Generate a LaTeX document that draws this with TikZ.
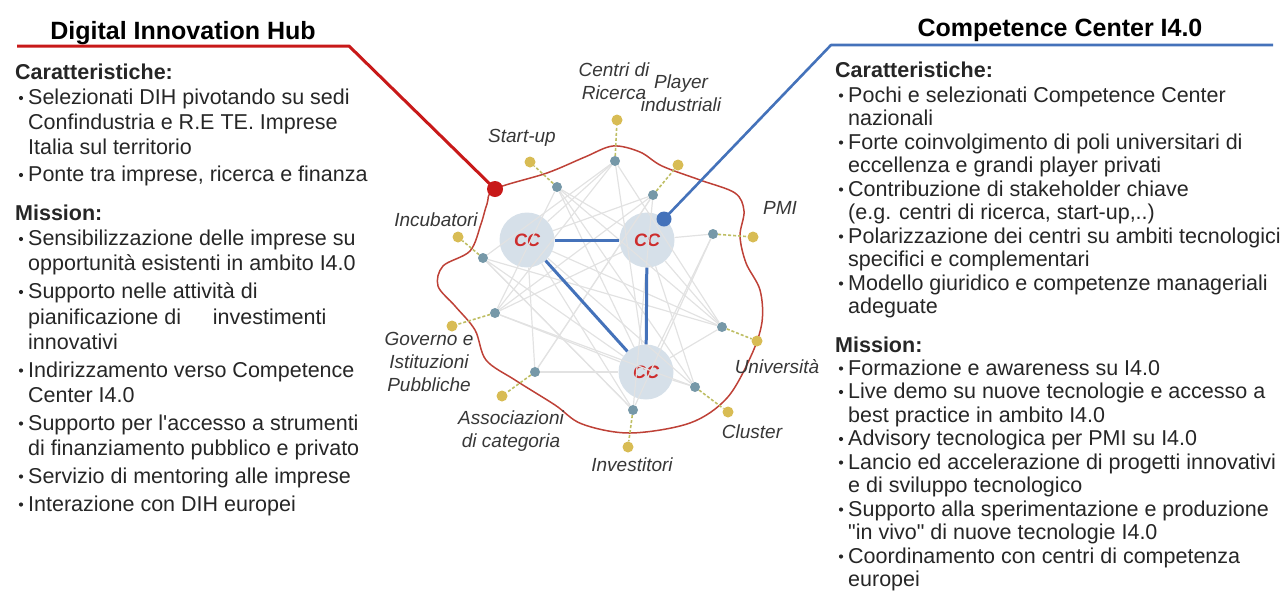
\documentclass[tikz,border=0pt]{standalone}
\usepackage{fontspec}
\setmainfont{Liberation Sans}
\definecolor{txt}{RGB}{38,38,38}
\definecolor{labc}{RGB}{55,55,55}
\definecolor{redc}{RGB}{200,25,25}
\definecolor{bluec}{RGB}{68,114,186}
\definecolor{ccfill}{RGB}{214,224,233}
\definecolor{ccred}{RGB}{205,45,45}
\definecolor{tealc}{RGB}{118,152,168}
\definecolor{goldc}{RGB}{216,188,84}
\definecolor{pinc}{RGB}{190,190,100}
\definecolor{webc}{RGB}{226,226,226}
\definecolor{blobc}{RGB}{190,65,55}
\begin{document}
\begin{tikzpicture}[x=1pt,y=-1pt,
  body/.style={font=\fontsize{21.5}{24}\selectfont, text=txt, inner sep=0pt, anchor=base west},
  head/.style={font=\fontsize{21.5}{24}\selectfont\bfseries, text=txt, inner sep=0pt, anchor=base west},
  ttl/.style={font=\fontsize{25}{30}\selectfont\bfseries, text=black, inner sep=0pt, anchor=base},
  lab/.style={font=\fontsize{19}{23}\selectfont\itshape, text=labc, align=center, inner sep=0pt},
  ccnode/.style={circle, fill=ccfill, minimum size=55pt, inner sep=0pt, font=\fontsize{18}{18}\selectfont\bfseries\itshape, text=ccred},
  inndot/.style={circle, fill=tealc, minimum size=10pt, inner sep=0pt},
  outdot/.style={circle, fill=goldc, minimum size=11pt, inner sep=0pt},
  web/.style={draw=webc, line width=1.2pt},
  strong/.style={draw=bluec, line width=3pt},
  pinline/.style={draw=pinc, dash pattern=on 3pt off 2pt, line width=1.6pt},
  blob/.style={draw=blobc, line width=1.5pt},
  bul/.style={circle, fill=txt, minimum size=4.2pt, inner sep=0pt}
]
\useasboundingbox (0,0) rectangle (1285,590);

% ---------- titles ----------
\node[ttl] (t1) at (183,39) {Digital Innovation Hub};
\node[ttl] (t2) at (1060,36) {Competence Center I4.0};

% ---------- central network ----------
\draw[blob] plot[smooth cycle, tension=0.55] coordinates {
 (495,189) (547,173) (585,157) (613,146) (640,152) (662,166) (700,180) (735,193)
 (744,211) (740,236) (746,263) (760,290) (762,322) (751,356) (727,398) (690,423)
 (630,433) (582,424) (555,405) (515,380) (486,360) (475,330) (455,306) (438,286)
 (443,266) (470,251) (481,224) (487,204)};

\node[ccnode] (cc1) at (527,240) {CC};
\node[ccnode] (cc2) at (647,240) {CC};
\node[ccnode] (cc3) at (646,372) {CC};

\node[inndot] (iric) at (615,161) {};
\node[inndot] (ista) at (557,187) {};
\node[inndot] (ipla) at (653,195) {};
\node[inndot] (ipmi) at (713,234) {};
\node[inndot] (iinc) at (483,258) {};
\node[inndot] (igov) at (495,313) {};
\node[inndot] (iass) at (535,372) {};
\node[inndot] (iinv) at (633,410) {};
\node[inndot] (iclu) at (695,387) {};
\node[inndot] (iuni) at (722,327) {};

\node[outdot] (oric) at (617,120) {};
\node[outdot] (osta) at (530,162) {};
\node[outdot] (opla) at (678,165) {};
\node[outdot] (opmi) at (753,237) {};
\node[outdot] (oinc) at (458,237) {};
\node[outdot] (ogov) at (452,326) {};
\node[outdot] (oass) at (502,396) {};
\node[outdot] (oinv) at (628,447) {};
\node[outdot] (oclu) at (728,412) {};
\node[outdot] (ouni) at (757,341) {};

% web of light links
\foreach \a/\b in {iinc/cc3, iinc/iuni, iinc/iric, iinc/iinv,
  ista/cc3, ista/iclu, ista/cc2, ista/igov,
  iric/cc1, iric/igov, iric/iuni, iric/cc3,
  ipla/cc1, ipla/igov, ipla/iinv, ipla/iass,
  ipmi/cc2, ipmi/iinv, ipmi/cc3,
  igov/cc2, igov/cc3, igov/iclu,
  iass/cc1, iass/cc3, iass/ipla,
  iinv/cc1, iinv/iinc,
  iclu/cc2, iclu/cc3, iclu/cc1,
  iuni/cc3, iuni/cc1, iuni/cc2, iuni/ista}
  \draw[web] (\a) -- (\b);

\draw[strong] (cc1) -- (cc2);
\draw[strong] (cc1) -- (cc3);
\draw[strong] (cc2) -- (cc3);

\foreach \n in {ric,sta,pla,pmi,inc,gov,ass,inv,clu,uni}
  \draw[pinline] (i\n) -- (o\n);

% labels
\node[lab] (lric) at (614,81.5) {Centri di\\Ricerca};
\node[lab] (lsta) at (522,138) {Start-up};
\node[lab] (lpla) at (681,93) {Player\\industriali};
\node[lab] (lpmi) at (780,208) {PMI};
\node[lab] (linc) at (436,220) {Incubatori};
\node[lab] (lgov) at (429,362) {Governo e\\Istituzioni\\Pubbliche};
\node[lab] (lass) at (511,431) {Associazioni\\di categoria};
\node[lab] (linv) at (632,465) {Investitori};
\node[lab] (lclu) at (752,432) {Cluster};
\node[lab] (luni) at (777,367) {Università};

% pointer lines
\coordinate (rdotc) at (495,189);
\coordinate (bdotc) at (664,219);
\coordinate (rbend) at (349,46);
\coordinate (rend) at (17,46);
\coordinate (bbend) at (831,45);
\coordinate (bend2) at (1273,45);
\draw[redc, line width=3pt, line join=round] (rend) -- (rbend) -- (rdotc);
\node[circle, fill=redc, minimum size=16pt, inner sep=0pt] (rdot) at (rdotc) {};
\draw[bluec, line width=2.6pt, line join=round] (bend2) -- (bbend) -- (bdotc);
\node[circle, fill=bluec, minimum size=15pt, inner sep=0pt] (bdot) at (bdotc) {};

% ---------- left column ----------
\node[head] (lh1) at (15,79.5) {Caratteristiche:};
\node[bul] (lb1) at (21,98) {};
\node[body] (l1) at (28,104.5) {Selezionati DIH pivotando su sedi};
\node[body] (l2) at (28,129.5) {Confindustria e R.E TE. Imprese};
\node[body] (l3) at (28,154) {Italia sul territorio};
\node[bul] (lb2) at (21,175) {};
\node[body] (l4) at (28,181.5) {Ponte tra imprese, ricerca e finanza};
\node[head] (lh2) at (15,220.5) {Mission:};
\node[bul] (lb3) at (21,239) {};
\node[body] (l5) at (28,245.5) {Sensibilizzazione delle imprese su};
\node[body] (l6) at (28,270.8) {opportunità esistenti in ambito I4.0};
\node[bul] (lb4) at (21,292) {};
\node[body] (l7) at (28,298.5) {Supporto nelle attività di};
\node[body] (l8) at (28,324) {pianificazione di\hspace{1.2em} investimenti};
\node[body] (l9) at (28,349) {innovativi};
\node[bul] (lb5) at (21,370.5) {};
\node[body] (l10) at (28,377) {Indirizzamento verso Competence};
\node[body] (l11) at (28,402.3) {Center I4.0};
\node[bul] (lb6) at (21,423.5) {};
\node[body] (l12) at (28,430) {Supporto per l\textquotesingle accesso a strumenti};
\node[body] (l13) at (28,455.4) {di finanziamento pubblico e privato};
\node[bul] (lb7) at (21,476.5) {};
\node[body] (l14) at (28,483) {Servizio di mentoring alle imprese};
\node[bul] (lb8) at (21,504.5) {};
\node[body] (l15) at (28,511) {Interazione con DIH europei};

% ---------- right column ----------
\node[head] (rh1) at (835,77) {Caratteristiche:};
\node[bul] (rb1) at (841,95.5) {};
\node[body] (r1) at (848,102) {Pochi e selezionati Competence Center};
\node[body] (r2) at (848,125.5) {nazionali};
\node[bul] (rb2) at (841,142.5) {};
\node[body] (r3) at (848,149) {Forte coinvolgimento di poli universitari di};
\node[body] (r4) at (848,172.5) {eccellenza e grandi player privati};
\node[bul] (rb3) at (841,189.5) {};
\node[body] (r5) at (848,196) {Contribuzione di stakeholder chiave};
\node[body] (r6) at (848,219.5) {(e.g. centri di ricerca, start-up,..)};
\node[bul] (rb4) at (841,236.5) {};
\node[body] (r7) at (848,243) {Polarizzazione dei centri su ambiti tecnologici};
\node[body] (r8) at (848,266.5) {specifici e complementari};
\node[bul] (rb5) at (841,283.5) {};
\node[body] (r9) at (848,290) {Modello giuridico e competenze manageriali};
\node[body] (r10) at (848,313.5) {adeguate};
\node[head] (rh2) at (835,352) {Mission:};
\node[bul] (rb6) at (841,368.5) {};
\node[body] (r11) at (848,375) {Formazione e awareness su I4.0};
\node[bul] (rb7) at (841,392) {};
\node[body] (r12) at (848,398.5) {Live demo su nuove tecnologie e accesso a};
\node[body] (r13) at (848,422) {best practice in ambito I4.0};
\node[bul] (rb8) at (841,439) {};
\node[body] (r14) at (848,445.5) {Advisory tecnologica per PMI su I4.0};
\node[bul] (rb9) at (841,462.5) {};
\node[body] (r15) at (848,469) {Lancio ed accelerazione di progetti innovativi};
\node[body] (r16) at (848,492.5) {e di sviluppo tecnologico};
\node[bul] (rb10) at (841,509.5) {};
\node[body] (r17) at (848,516) {Supporto alla sperimentazione e produzione};
\node[body] (r18) at (848,539.5) {\textquotedbl in vivo\textquotedbl{} di nuove tecnologie I4.0};
\node[bul] (rb11) at (841,556.5) {};
\node[body] (r19) at (848,563) {Coordinamento con centri di competenza};
\node[body] (r20) at (848,586.5) {europei};
\end{tikzpicture}
\end{document}
